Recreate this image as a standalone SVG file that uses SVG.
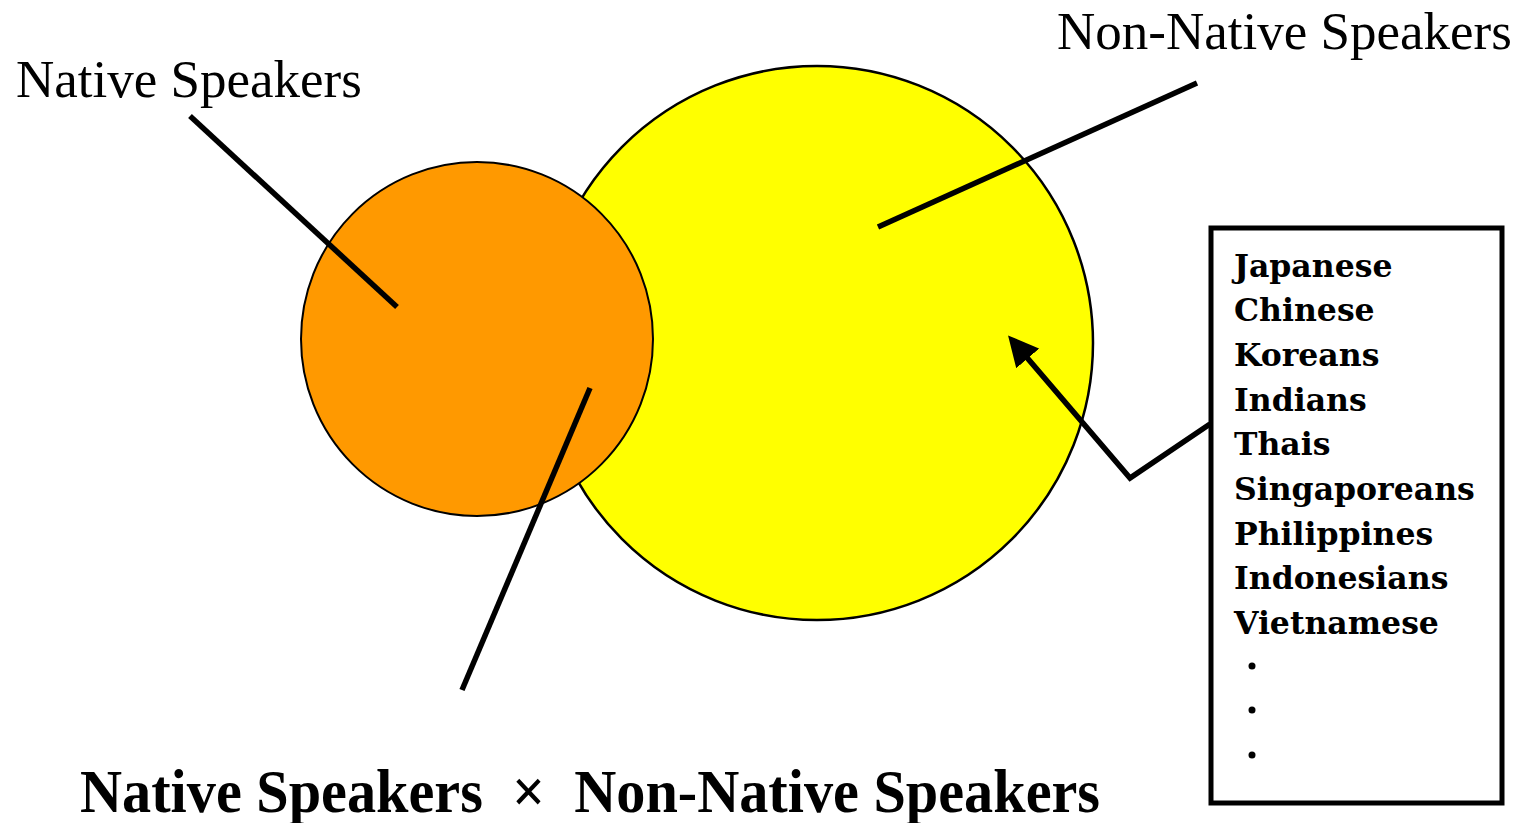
<svg xmlns="http://www.w3.org/2000/svg" width="1520" height="823" viewBox="0 0 1520 823">
<style>
.lbl{font-family:"Liberation Serif","Times New Roman",serif;font-size:53px;fill:#000}
.lst{font-family:"DejaVu Serif","Liberation Serif",serif;font-weight:bold;font-size:31.5px;fill:#000}
.ttl{font-family:"Liberation Serif","Times New Roman",serif;font-weight:bold;font-size:61px;fill:#000}
.ln{stroke:#000;stroke-width:5.5;fill:none}
</style>
<defs>
<marker id="ah" viewBox="0 0 10 10" refX="8" refY="5" markerWidth="5.5" markerHeight="5.5" orient="auto" markerUnits="strokeWidth">
<path d="M0,0 L10,5 L0,10 z" fill="#000"/>
</marker>
</defs>
<rect width="1520" height="823" fill="#fff"/>
<g id="nonnative-circle">
<ellipse cx="817" cy="343" rx="276" ry="277" fill="#ffff00" stroke="#000" stroke-width="2.5"/>
</g>
<g id="native-circle">
<ellipse cx="477" cy="339" rx="176" ry="177" fill="#ff9900" stroke="#000" stroke-width="2"/>
</g>
<g id="label-native"><text class="lbl" x="16" y="97">Native Speakers</text></g>
<g id="label-nonnative"><text class="lbl" x="1057" y="49">Non-Native Speakers</text></g>
<g id="list-box">
<rect x="1211" y="228" width="291" height="575" fill="#fff" stroke="#000" stroke-width="5"/>
<text class="lst" x="1234" y="277">Japanese</text>
<text class="lst" x="1234" y="321">Chinese</text>
<text class="lst" x="1234" y="366">Koreans</text>
<text class="lst" x="1234" y="411">Indians</text>
<text class="lst" x="1234" y="455">Thais</text>
<text class="lst" x="1234" y="500">Singaporeans</text>
<text class="lst" x="1234" y="545">Philippines</text>
<text class="lst" x="1234" y="589">Indonesians</text>
<text class="lst" x="1234" y="634">Vietnamese</text>
<circle cx="1252" cy="666" r="3.5" fill="#000"/>
<circle cx="1252" cy="710" r="3.5" fill="#000"/>
<circle cx="1252" cy="755" r="3.5" fill="#000"/>
</g>
<g id="title"><text class="ttl" x="80" y="812" textLength="1020" lengthAdjust="spacingAndGlyphs" xml:space="preserve">Native Speakers  ×  Non-Native Speakers</text></g>
<g id="connectors">
<line class="ln" x1="190" y1="116" x2="397" y2="307"/>
<line class="ln" x1="1197" y1="83" x2="878" y2="227"/>
<line class="ln" x1="590" y1="388" x2="462" y2="690"/>
<polyline class="ln" points="1210,424 1130,478 1012,340" marker-end="url(#ah)"/>
</g>
</svg>
